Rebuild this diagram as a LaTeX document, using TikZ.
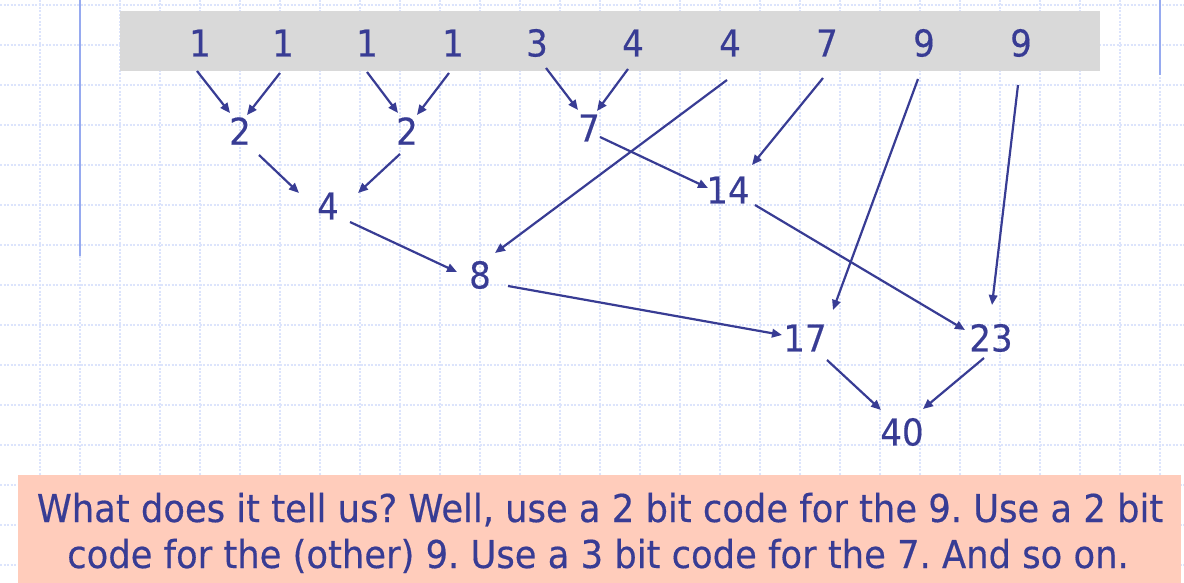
\documentclass[tikz,border=0pt]{standalone}
\usepackage{fontspec}
\setmainfont{DejaVu Sans}[FakeStretch=0.92,FakeBold=0.4]
\usetikzlibrary{arrows.meta}
\frenchspacing
\definecolor{ink}{RGB}{56,60,148}
\definecolor{gridc}{RGB}{220,228,252}
\definecolor{rulec}{RGB}{150,170,240}
\definecolor{barc}{RGB}{217,217,217}
\definecolor{notec}{RGB}{255,204,187}
\begin{document}
\begin{tikzpicture}[x=1pt,y=-1pt,
  num/.style={text=ink,font=\fontsize{37}{44}\selectfont,inner sep=0pt},
  note/.style={text=ink,font=\fontsize{38.4}{46}\selectfont,inner sep=0pt,anchor=base},
  arr/.style={draw=ink,line width=2.2pt,-{Triangle[length=10pt,width=8.5pt]}},
  gridline/.style={draw=gridc,line width=1.2pt,dash pattern=on 2pt off 1.5pt},
  bluerule/.style={draw=rulec,line width=2pt}]
\useasboundingbox (0,0) rectangle (1184,583);
\fill[white] (0,0) rectangle (1184,583);
\foreach \x in {40,80,...,1160} \draw[gridline] (\x,0) -- (\x,583);
\foreach \y in {5,45,...,565} \draw[gridline] (0,\y) -- (1184,\y);
\draw[bluerule] (80,0) -- (80,256);
\draw[bluerule] (1160,0) -- (1160,75);
\fill[barc] (120,11) rectangle (1100,71);
\fill[notec] (18,475) rectangle (1181,583);
% top row
\node[num] (t1) at (200,43) {1};
\node[num] (t2) at (283,43) {1};
\node[num] (t3) at (367,43) {1};
\node[num] (t4) at (453,43) {1};
\node[num] (t5) at (537,43) {3};
\node[num] (t6) at (633,43) {4};
\node[num] (t7) at (730,43) {4};
\node[num] (t8) at (827,43) {7};
\node[num] (t9) at (924,43) {9};
\node[num] (t10) at (1021,43) {9};
% merged nodes
\node[num] (a2) at (240,131) {2};
\node[num] (b2) at (407,131) {2};
\node[num] (c7) at (589,128) {7};
\node[num] (d14) at (728,190) {14};
\node[num] (e4) at (328,206) {4};
\node[num] (f8) at (480,275) {8};
\node[num] (g17) at (805,338) {17};
\node[num] (h23) at (991,338) {23};
\node[num] (i40) at (902,432) {40};
% arrows
\draw[arr] ([shift={(-3,28)}]t1.center) -- ([shift={(-10,-18)}]a2.center);
\draw[arr] ([shift={(-3,30)}]t2.center) -- ([shift={(7,-16)}]a2.center);
\draw[arr] ([shift={(0,29)}]t3.center) -- ([shift={(-9,-18)}]b2.center);
\draw[arr] ([shift={(-4,30)}]t4.center) -- ([shift={(10,-16)}]b2.center);
\draw[arr] ([shift={(9,25)}]t5.center) -- ([shift={(-11,-18)}]c7.center);
\draw[arr] ([shift={(-5,26)}]t6.center) -- ([shift={(8,-17)}]c7.center);
\draw[arr] ([shift={(-3,37)}]t7.center) -- ([shift={(15,-22)}]f8.center);
\draw[arr] ([shift={(11,9)}]c7.center) -- ([shift={(-20,-2)}]d14.center);
\draw[arr] ([shift={(-4,35)}]t8.center) -- ([shift={(24,-25)}]d14.center);
\draw[arr] ([shift={(-6,36)}]t9.center) -- ([shift={(28,-28)}]g17.center);
\draw[arr] ([shift={(-3,42)}]t10.center) -- ([shift={(1,-33)}]h23.center);
\draw[arr] ([shift={(19,24)}]a2.center) -- ([shift={(-29,-13)}]e4.center);
\draw[arr] ([shift={(-7,23)}]b2.center) -- ([shift={(30,-13)}]e4.center);
\draw[arr] ([shift={(22,16)}]e4.center) -- ([shift={(-23,-3)}]f8.center);
\draw[arr] ([shift={(28,11)}]f8.center) -- ([shift={(-23,-3)}]g17.center);
\draw[arr] ([shift={(27,15)}]d14.center) -- ([shift={(-26,-8)}]h23.center);
\draw[arr] ([shift={(22,22)}]g17.center) -- ([shift={(-21,-22)}]i40.center);
\draw[arr] ([shift={(-7,20)}]h23.center) -- ([shift={(21,-23)}]i40.center);
% note
\node[note] (q1) at (600,522) {What does it tell us? Well, use a 2 bit code for the 9. Use a 2 bit};
\node[note] (q2) at (598,568) {code for the (other) 9. Use a 3 bit code for the 7. And so on.};
\end{tikzpicture}
\end{document}
